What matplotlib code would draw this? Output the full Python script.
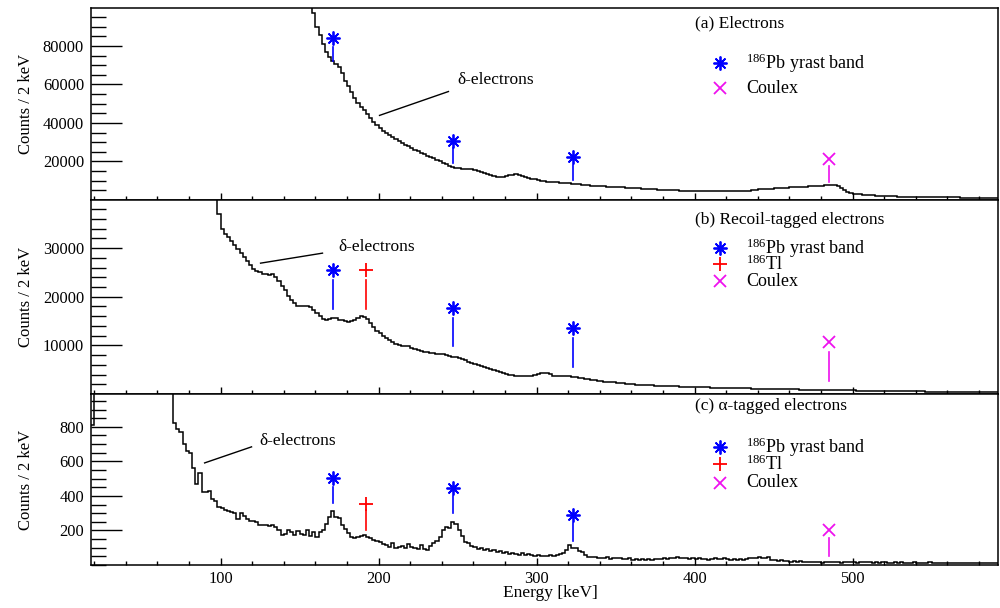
import numpy as np
import matplotlib.pyplot as plt
from matplotlib.ticker import MultipleLocator, FixedLocator

plt.rcParams['font.family'] = ['Liberation Serif', 'DejaVu Serif']
plt.rcParams['mathtext.fontset'] = 'custom'
plt.rcParams['mathtext.rm'] = 'Liberation Serif'
plt.rcParams['mathtext.it'] = 'Liberation Serif:italic'

# 2 keV bins, counts per bin; first bin low edge given separately
a_start = 156
a_counts = [
    125000, 97000, 90000, 85500, 81000, 77000, 74000, 72000, 70500, 69000,
    66000, 62000, 59000, 56000, 53000, 50500, 48500, 46500, 44500, 42500,
    40500, 39000, 37500, 36000, 34800, 33700, 32700, 31700, 30800, 29800,
    28800, 27800, 26900, 26000, 25200, 24400, 23700, 23000, 22300, 21600,
    20800, 20000, 19200, 18500, 17800, 17200, 16800, 16500, 16300, 16100,
    16000, 15900, 15700, 15300, 14700, 14100, 13500, 12900, 12400, 12100,
    12000, 12100, 12400, 12800, 13200, 13400, 13100, 12400, 11700, 11300,
    11000, 10700, 10300, 9900, 9700, 9500, 9400, 9300, 9200, 9000,
    8900, 8800, 8600, 8400, 8300, 8100, 7900, 7800, 7600, 7500,
    7400, 7300, 7200, 7100, 7000, 6900, 6800, 6700, 6600, 6500,
    6400, 6300, 6200, 6100, 6000, 5900, 5800, 5700, 5600, 5500,
    5400, 5300, 5200, 5100, 5100, 5000, 5000, 4900, 4900, 4800,
    4800, 4700, 4700, 4650, 4600, 4600, 4550, 4500, 4500, 4500,
    4450, 4450, 4450, 4450, 4500, 4500, 4600, 4700, 4800, 4900,
    5100, 5300, 5500, 5600, 5700, 5800, 5900, 6000, 6100, 6200,
    6300, 6400, 6500, 6600, 6700, 6800, 6900, 7000, 7100, 7200,
    7300, 7400, 7500, 7600, 7700, 7750, 7600, 7200, 6300, 5200,
    4300, 3700, 3300, 3100, 2900, 2700, 2600, 2500, 2400, 2300,
    2200, 2100, 2000, 1950, 1900, 1850, 1800, 1750, 1700, 1650,
    1600, 1600, 1550, 1550, 1500, 1500, 1500, 1450, 1450, 1400,
    1400, 1400, 1350, 1350, 1300, 1300, 1250, 1250, 1200, 1200,
    1150, 1150, 1100, 1100, 1050, 1050, 1000, 1000,
]

b_start = 96
b_counts = [
    45000, 37000, 34000, 33000, 32200, 31500, 30700, 29900, 29000, 28200,
    27400, 26500, 25800, 25300, 25000, 24700, 24600, 24400, 24600, 24000,
    23200, 22300, 21300, 20200, 19300, 18700, 18200, 18000, 18000, 18100,
    17900, 17300, 16600, 16000, 15500, 15200, 15400, 15700, 15600, 15300,
    15200, 15000, 14900, 15000, 15300, 15700, 16000, 15900, 15500, 14600,
    13700, 13000, 12500, 12000, 11600, 11200, 10700, 10200, 10000, 9900,
    9900, 9800, 9500, 9200, 9000, 8800, 8700, 8600, 8500, 8400,
    8300, 8300, 8200, 8000, 7800, 7700, 7600, 7400, 7100, 6900,
    6600, 6400, 6200, 6000, 5800, 5500, 5300, 5100, 4900, 4700,
    4500, 4300, 4100, 4000, 3900, 3800, 3700, 3600, 3600, 3600,
    3700, 3900, 4100, 4300, 4400, 4400, 4100, 3800, 3700, 3600,
    3600, 3600, 3600, 3500, 3400, 3300, 3200, 3100, 3000, 2900,
    2800, 2700, 2600, 2550, 2500, 2450, 2400, 2350, 2250, 2200,
    2100, 2050, 2000, 1950, 1900, 1850, 1800, 1800, 1750, 1700,
    1700, 1650, 1650, 1600, 1600, 1550, 1550, 1500, 1500, 1450,
    1450, 1400, 1400, 1400, 1350, 1350, 1350, 1300, 1300, 1300,
    1250, 1250, 1250, 1200, 1200, 1200, 1200, 1150, 1150, 1150,
    1100, 1100, 1100, 1100, 1050, 1050, 1050, 1000, 1000, 1000,
    1000, 950, 950, 950, 950, 900, 900, 900, 900, 900,
    850, 850, 850, 850, 850, 800, 800, 800, 800, 750,
    750, 750, 750, 700, 700, 700, 700, 700, 650, 650,
    650, 650, 650, 600, 600, 600, 600, 600, 600, 550,
    550, 550, 550, 550, 550, 500, 500, 500, 500, 500,
    500, 450, 450, 450, 450, 450, 450, 450, 400, 400,
    400, 400, 400, 400, 400, 400, 350, 350,
]

c_start = 18
c_counts = [
    810, 3500, 3300, 3150, 3000, 2850, 2700, 2600, 2450, 2350,
    2250, 2150, 2050, 1950, 1870, 1790, 1720, 1650, 1580, 1510,
    1450, 1390, 1330, 1270, 1210, 1150, 820, 790, 770, 700,
    660, 650, 560, 470, 530, 425, 420, 430, 380, 370,
    335, 330, 320, 315, 305, 300, 265, 300, 285, 265,
    255, 255, 250, 232, 232, 230, 225, 232, 220, 205,
    175, 180, 205, 190, 175, 195, 180, 175, 200, 170,
    190, 165, 190, 200, 240, 280, 310, 280, 270, 230,
    210, 185, 160, 155, 165, 170, 175, 165, 155, 145,
    140, 135, 120, 115, 105, 125, 100, 105, 110, 100,
    120, 105, 100, 95, 115, 90, 85, 110, 125, 140,
    165, 200, 220, 215, 250, 235, 205, 170, 135, 125,
    110, 105, 95, 100, 85, 95, 80, 85, 75, 80,
    70, 75, 65, 70, 65, 60, 70, 60, 62, 58,
    55, 60, 55, 52, 55, 58, 52, 60, 65, 70,
    85, 115, 100, 100, 80, 75, 60, 48, 45, 45,
    40, 42, 38, 44, 35, 40, 38, 42, 36, 33,
    38, 30, 35, 30, 32, 28, 34, 30, 33, 36,
    32, 38, 35, 42, 38, 45, 40, 38, 42, 36,
    40, 35, 38, 33, 36, 30, 34, 38, 32, 36,
    40, 35, 30, 33, 28, 32, 30, 35, 40, 38,
    42, 45, 40, 38, 44, 30, 28, 25, 30, 22,
    26, 20, 24, 18, 22, 20, 16, 19, 15, 18,
    16, 14, 18, 15, 20, 16, 18, 14, 16, 20,
    15, 17, 14, 19, 16, 15, 18, 13, 16, 12,
    15, 18, 14, 12, 16, 13, 15, 11, 14, 12,
    16, 13, 10, 14, 12, 15, 11, 13, 10, 14,
    12, 9, 13, 11, 14, 10, 12, 9, 13, 11,
    10, 14, 9, 12, 10, 13, 11,
]

# transition markers: kind, energy (keV), marker height, line top, line bottom
a_kind = ['pb', 'pb', 'pb', 'coulex']
a_energy = [171, 247, 323, 485]
a_mark = [84240, 30650, 22220, 21190]
a_ltop = [79590, 26870, 18090, 17570]
a_lbot = [72350, 19120, 10340, 9300]

b_kind = ['pb', 'tl', 'pb', 'pb', 'coulex']
b_energy = [171, 192, 247, 323, 485]
b_mark = [25470, 25470, 17770, 13650, 10690]
b_ltop = [23400, 23400, 15570, 11440, 8560]
b_lbot = [17420, 17420, 9770, 5460, 2580]

c_kind = ['pb', 'tl', 'pb', 'pb', 'coulex']
c_energy = [171, 192, 247, 323, 485]
c_mark = [502, 354, 448, 290, 203]
c_ltop = [452, 319, 400, 243, 157]
c_lbot = [359, 203, 301, 139, 52]

# delta-electron pointer: line (E0, y0) -> (E1, y1), text at (Et, yt)
a_delta = [(200.6, 43930), (244.2, 56330), (250, 62530)]
b_delta = [(125.3, 26910), (164.5, 28970), (174.6, 30210)]
c_delta = [(89.9, 591), (119.6, 684), (124.6, 719)]

titles = ['(a) Electrons', '(b) Recoil-tagged electrons', '(c) α-tagged electrons']
leg_labels = {'pb': r'$^{186}$Pb yrast band', 'tl': r'$^{186}$Tl', 'coulex': 'Coulex'}

styles = {
    'pb': dict(marker=(8, 2, 0), color='blue', ms=10, mew=1.3),
    'tl': dict(marker='+', color='red', ms=10.5, mew=1.3),
    'coulex': dict(marker='x', color='#ee11ee', ms=9, mew=1.3),
}

fig = plt.figure(figsize=(10, 6.08), dpi=100)
W, H = 1000, 608
x0, x1 = 91, 998
panels = [(8, 200), (200, 394), (394, 565)]

ylims = [99700, 39900, 990]
ymaj = [[20000, 40000, 60000, 80000], [10000, 20000, 30000], [200, 400, 600, 800]]
ymin_step = [5000, 2000, 50]
title_y = [0.922, 0.897, 0.930]
leg_y = [{'pb': 0.714, 'coulex': 0.583},
         {'pb': 0.753, 'tl': 0.670, 'coulex': 0.582},
         {'pb': 0.690, 'tl': 0.591, 'coulex': 0.480}]

data = [
    (a_start, a_counts, a_kind, a_energy, a_mark, a_ltop, a_lbot, a_delta),
    (b_start, b_counts, b_kind, b_energy, b_mark, b_ltop, b_lbot, b_delta),
    (c_start, c_counts, c_kind, c_energy, c_mark, c_ltop, c_lbot, c_delta),
]

for i, (top, bot) in enumerate(panels):
    ax = fig.add_axes([x0 / W, 1 - bot / H, (x1 - x0) / W, (bot - top) / H])
    start, counts, kind, energy, mark, ltop, lbot, delta = data[i]
    edges = start + 2 * np.arange(len(counts) + 1)
    ax.stairs(counts, edges, color='black', lw=1.1, baseline=None)

    for k, e, m, t, b in zip(kind, energy, mark, ltop, lbot):
        st = styles[k]
        ax.plot([e, e], [b, t], color=st['color'], lw=1.2)
        ax.plot([e], [m], linestyle='none', **st)

    (e0, v0), (e1, v1), (et, vt) = delta
    ax.plot([e0, e1], [v0, v1], color='black', lw=1.0)
    ax.text(et, vt, 'δ-electrons', fontsize=12.5, ha='left', va='center')

    ax.text(0.666, title_y[i], titles[i], transform=ax.transAxes,
            fontsize=12.5, ha='left', va='center')
    for k, yy in leg_y[i].items():
        ax.plot([0.6935], [yy], transform=ax.transAxes, linestyle='none',
                clip_on=False, **styles[k])
        ax.text(0.722, yy, leg_labels[k], transform=ax.transAxes,
                fontsize=13, ha='left', va='center')

    ax.set_xlim(18, 592)
    ax.set_ylim(0, ylims[i])
    ax.xaxis.set_major_locator(MultipleLocator(100))
    ax.xaxis.set_minor_locator(MultipleLocator(20))
    ax.yaxis.set_major_locator(FixedLocator(ymaj[i]))
    ax.yaxis.set_minor_locator(MultipleLocator(ymin_step[i]))
    ax.tick_params(axis='y', which='major', direction='in', length=22, width=1.0,
                   labelsize=11.8, pad=5)
    ax.tick_params(axis='y', which='minor', direction='in', length=11, width=1.0)
    ax.tick_params(axis='x', which='major', direction='in', length=5, width=1.0,
                   labelsize=11.8, pad=4)
    ax.tick_params(axis='x', which='minor', direction='in', length=3, width=1.0)
    ax.tick_params(top=False, right=False, which='both')
    if i < 2:
        ax.tick_params(axis='x', labelbottom=False)
    for sp in ax.spines.values():
        sp.set_linewidth(1.1)

    fig.text(26 / W, 1 - (top + bot) / 2 / H, 'Counts / 2 keV', rotation=90,
             ha='center', va='center', fontsize=12)

fig.text(550 / W, 1 - 593 / H, 'Energy [keV]', ha='center', va='center', fontsize=12.5)

fig.savefig('out.png', dpi=100)
